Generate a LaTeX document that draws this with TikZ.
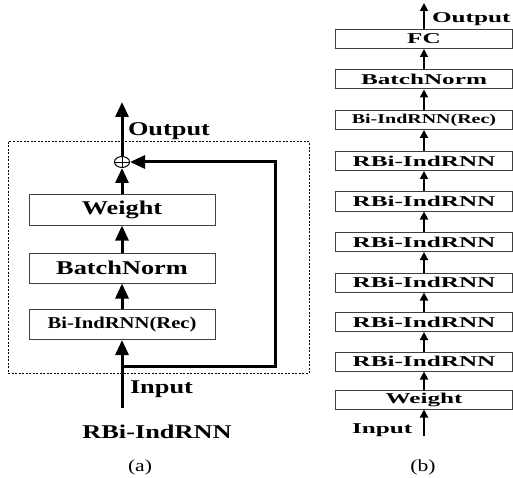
\documentclass[tikz,border=0pt]{standalone}
\usepackage{fontspec}
\setmainfont{Liberation Serif}
\usepackage{graphicx}
\usetikzlibrary{arrows.meta,shapes.geometric}
\newcommand{\wtxt}[3]{\scalebox{#1}[1]{\fontsize{#2}{#2}\selectfont #3}}
\newcommand{\tA}[1]{\wtxt{1.35}{19.5}{\bfseries #1}}
\newcommand{\tAs}[1]{\wtxt{1.25}{16.5}{\bfseries #1}}
\newcommand{\tB}[1]{\wtxt{1.68}{15}{\bfseries #1}}
\newcommand{\tBs}[1]{\wtxt{1.48}{13.5}{\bfseries #1}}
\newcommand{\tC}[1]{\wtxt{1.27}{17}{#1}}
\begin{document}
\begin{tikzpicture}[x=1pt,y=-1pt,
  boxa/.style={draw=black!75, line width=1pt, minimum width=186pt, minimum height=30pt, inner sep=0pt},
  boxb/.style={draw=black!75, line width=1pt, minimum width=177pt, minimum height=19pt, inner sep=0pt},
  arra/.style={line width=3pt, -{Triangle[length=15pt,width=13pt]}},
  arrb/.style={line width=1.8pt, -{Triangle[length=8pt,width=8pt]}},
  lbl/.style={inner sep=0pt, outer sep=0pt}]
\useasboundingbox (0,0) rectangle (513,478);

% ---------- (a) ----------
\draw[dash pattern=on 2pt off 1.5pt, line width=1pt] (8,142) rectangle (309,373);
\node[boxa] (wa) at (122,210) {\tA{Weight}};
\node[boxa] (bna) at (122,268) {\tA{BatchNorm}};
\node[boxa] (bia) at (122,324.5) {\tAs{Bi-IndRNN(Rec)}};
\node[draw, ellipse, line width=1pt, minimum width=15pt, minimum height=11pt, inner sep=0pt] (sum) at (122,162) {};
\draw[line width=0.8pt] (sum.north) -- (sum.south) (sum.west) -- (sum.east);
\coordinate (outa) at (122,102);
\coordinate (ina) at (122,408);
\coordinate (ja) at (122,366);
\coordinate (fb1) at (275,366);
\coordinate (fb2) at (275,162);
\draw[arra] (sum.north) -- (outa);
\draw[arra] (wa.north) -- (sum.south);
\draw[arra] (bna.north) -- (wa.south);
\draw[arra] (bia.north) -- (bna.south);
\draw[arra] (ina) -- (bia.south);
\draw[arra] (ja) -- (fb1) -- (fb2) -- (sum.east);
\node[lbl, anchor=base west] (outta) at (128,136) {\tA{Output}};
\node[lbl, anchor=base west] (inta) at (130,393) {\tA{Input}};
\node[lbl, anchor=base] (titlea) at (157,438) {\tA{RBi-IndRNN}};
\node[lbl, anchor=base] (capa) at (140,471) {\tC{(a)}};

% ---------- (b) ----------
\node[boxb] (b0) at (424,39) {\tB{FC}};
\node[boxb] (b1) at (424,79.5) {\tB{BatchNorm}};
\node[boxb] (b2) at (424,120) {\tBs{Bi-IndRNN(Rec)}};
\node[boxb] (b3) at (424,161) {\tB{RBi-IndRNN}};
\node[boxb] (b4) at (424,201.5) {\tB{RBi-IndRNN}};
\node[boxb] (b5) at (424,242) {\tB{RBi-IndRNN}};
\node[boxb] (b6) at (424,282.5) {\tB{RBi-IndRNN}};
\node[boxb] (b7) at (424,322) {\tB{RBi-IndRNN}};
\node[boxb] (b8) at (424,361.5) {\tB{RBi-IndRNN}};
\node[boxb] (b9) at (424,399.5) {\tB{Weight}};
\coordinate (outb) at (424,3);
\coordinate (inb) at (424,436);
\draw[arrb] (b0.north) -- (outb);
\foreach \u/\l in {b0/b1,b1/b2,b2/b3,b3/b4,b4/b5,b5/b6,b6/b7,b7/b8,b8/b9}
  \draw[arrb] (\l.north) -- (\u.south);
\draw[arrb] (inb) -- (b9.south);
\node[lbl, anchor=base west] (outtb) at (432,23) {\tB{Output}};
\node[lbl, anchor=base west] (intb) at (352,433) {\tB{Input}};
\node[lbl, anchor=base] (capb) at (423,471) {\tC{(b)}};
\end{tikzpicture}
\end{document}
